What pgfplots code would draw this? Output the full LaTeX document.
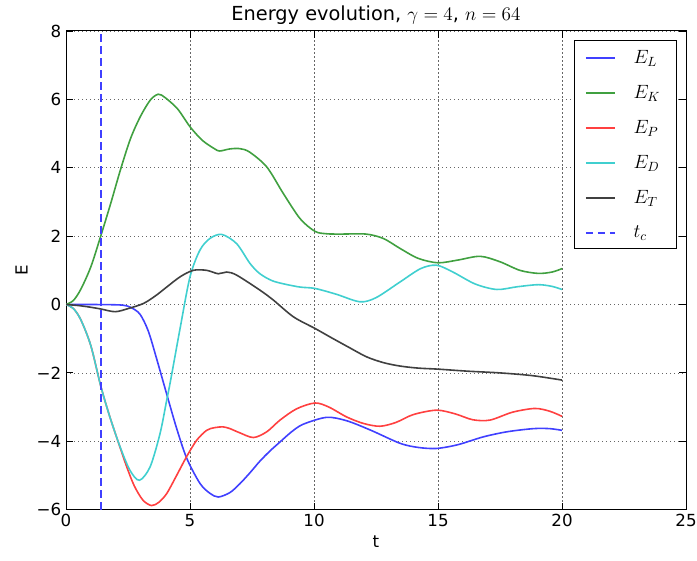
\documentclass[border=0pt]{standalone}
\usepackage{pgfplots}
\pgfplotsset{compat=1.18}
\usepackage{fontspec}
\setmainfont{DejaVu Sans}
\definecolor{cL}{RGB}{64,64,255}
\definecolor{cK}{RGB}{64,160,64}
\definecolor{cP}{RGB}{255,64,64}
\definecolor{cD}{RGB}{64,207,207}
\definecolor{cT}{RGB}{64,64,64}
\begin{document}
\begin{tikzpicture}
\begin{axis}[
  name=ax,
  scale only axis,
  width=465pt, height=359pt,
  xmin=0, xmax=25, ymin=-6, ymax=8,
  xtick={0,5,10,15,20,25},
  xticklabels={0,5,10,15,20,25},
  ytick={-6,-4,-2,0,2,4,6,8},
  yticklabels={−6,−4,−2,0,2,4,6,8},
  tick label style={font=\fontsize{12.5}{14}\selectfont},
  tick align=inside,
  major tick length=5pt,
  axis line style={black, line width=0.75pt},
  tick style={black, line width=0.6pt},
  grid=major,
  major grid style={black!60, line width=0.5pt, dash pattern=on 1pt off 2pt},
  title={Energy evolution, $\gamma=4$, $n=64$},
  title style={font=\fontsize{14.5}{16}\selectfont, yshift=-5pt},
  xlabel={t},
  ylabel={E},
  xlabel style={font=\fontsize{12.5}{14}\selectfont},
  ylabel style={font=\fontsize{12.5}{14}\selectfont},
  legend cell align=left,
  legend image code/.code={\draw[#1, line width=1.5pt] (0pt,0pt) -- (22pt,0pt);},
  legend style={at={(0.9855,0.981)}, anchor=north east, draw=black, line width=0.9pt,
    font=\fontsize{14}{16}\selectfont, row sep=11pt, column sep=9pt, inner xsep=8pt, inner ysep=5pt,
    nodes={inner xsep=4pt}},
  every axis plot/.append style={line width=1.2pt},
]
\addplot[cL, smooth] coordinates {
(0,0) (1.0,0) (1.8,-0.005) (2.3,-0.02) (2.6,-0.08) (2.98,-0.28) (3.32,-0.78) (3.66,-1.6) (4.06,-2.62) (4.46,-3.62) (4.87,-4.5) (5.4,-5.23) (5.8,-5.52) (6.14,-5.63) (6.61,-5.5) (7.0,-5.25) (7.42,-4.92) (7.82,-4.58) (8.23,-4.28) (8.63,-4.02) (9.1,-3.72) (9.57,-3.5) (10.51,-3.3) (11.32,-3.4) (12.3,-3.68) (13.47,-4.06) (14.2,-4.18) (14.94,-4.21) (15.8,-4.1) (16.83,-3.87) (17.8,-3.72) (18.85,-3.63) (19.5,-3.63) (20.0,-3.68)
};
\addlegendentry{$E_L$}
\addplot[cK, smooth] coordinates {
(0,0) (0.3,0.12) (0.6,0.45) (1.0,1.1) (1.4,2.0) (1.8,2.95) (2.2,3.95) (2.6,4.85) (3.0,5.5) (3.4,5.98) (3.72,6.15) (4.0,6.05) (4.5,5.72) (5.0,5.2) (5.5,4.8) (6.0,4.55) (6.2,4.49) (6.6,4.55) (7.0,4.56) (7.4,4.46) (8.1,4.02) (8.76,3.25) (9.44,2.51) (10.04,2.14) (10.5,2.07) (11.05,2.06) (12.1,2.06) (12.8,1.93) (13.47,1.64) (14.2,1.35) (15.0,1.22) (15.8,1.3) (16.7,1.41) (17.5,1.25) (18.3,1.0) (19.04,0.91) (19.6,0.95) (20.0,1.05)
};
\addlegendentry{$E_K$}
\addplot[cP, smooth] coordinates {
(0,0) (0.3,-0.12) (0.6,-0.45) (1.0,-1.2) (1.4,-2.38) (1.77,-3.29) (2.18,-4.18) (2.45,-4.75) (2.75,-5.3) (3.1,-5.72) (3.45,-5.88) (3.75,-5.78) (4.06,-5.53) (4.46,-5.0) (4.87,-4.44) (5.27,-3.97) (5.67,-3.68) (6.0,-3.6) (6.34,-3.58) (6.61,-3.63) (7.0,-3.75) (7.56,-3.89) (8.1,-3.72) (8.63,-3.38) (9.3,-3.05) (10.04,-2.88) (10.6,-3.0) (11.32,-3.29) (12.0,-3.48) (12.66,-3.56) (13.3,-3.45) (14.0,-3.22) (14.94,-3.09) (15.7,-3.2) (16.4,-3.37) (17.1,-3.38) (18.0,-3.15) (18.9,-3.04) (19.5,-3.12) (20.0,-3.27)
};
\addlegendentry{$E_P$}
\addplot[cD, smooth] coordinates {
(0,0) (0.3,-0.12) (0.6,-0.45) (1.0,-1.2) (1.4,-2.38) (1.77,-3.29) (2.18,-4.16) (2.58,-4.85) (2.96,-5.14) (3.39,-4.75) (3.79,-3.78) (4.06,-2.8) (4.22,-2.21) (4.6,-0.7) (5.0,0.81) (5.4,1.59) (5.8,1.93) (6.28,2.05) (6.88,1.78) (7.42,1.2) (7.82,0.9) (8.3,0.7) (8.8,0.6) (9.44,0.51) (10.04,0.47) (10.9,0.3) (11.85,0.08) (12.5,0.2) (13.47,0.66) (14.3,1.05) (14.94,1.15) (15.6,0.95) (16.5,0.6) (17.37,0.44) (18.2,0.52) (19.04,0.58) (19.6,0.53) (20.0,0.44)
};
\addlegendentry{$E_D$}
\addplot[cT, smooth] coordinates {
(0,0) (0.5,-0.03) (1.0,-0.08) (1.4,-0.13) (1.98,-0.21) (2.5,-0.12) (3.12,0.03) (3.6,0.25) (4.06,0.51) (4.6,0.81) (5.13,1.0) (5.67,1.0) (6.14,0.9) (6.48,0.95) (6.88,0.86) (7.82,0.42) (8.36,0.13) (9.17,-0.36) (10.04,-0.7) (10.65,-0.95) (11.4,-1.25) (12.12,-1.53) (12.8,-1.7) (13.47,-1.8) (14.2,-1.86) (15.0,-1.89) (16.2,-1.95) (17.5,-2.0) (18.8,-2.08) (20.0,-2.21)
};
\addlegendentry{$E_T$}
\addplot[cL, dash pattern=on 5.5pt off 3.5pt] coordinates {(1.41,-6) (1.41,8)};
\addlegendentry{$t_c$}
\end{axis}
\pgfresetboundingbox
\path[use as bounding box] ([xshift=-49.5pt,yshift=-38.25pt]ax.south west) rectangle ([xshift=8.25pt,yshift=23.25pt]ax.north east);
\end{tikzpicture}
\end{document}
